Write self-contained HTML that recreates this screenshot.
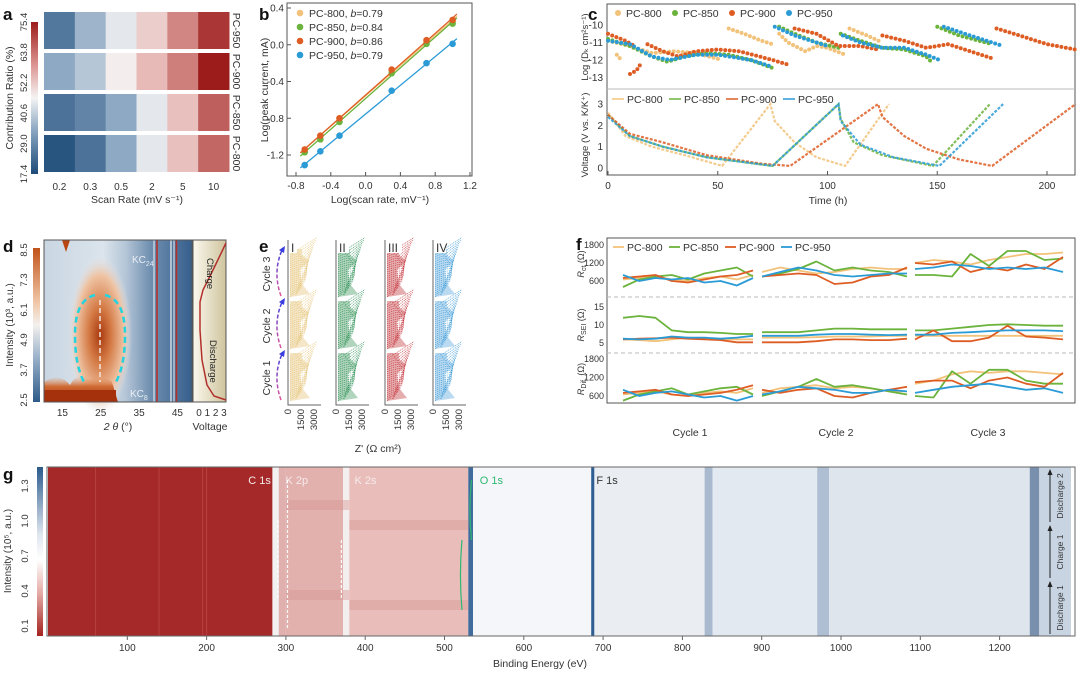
<!DOCTYPE html>
<html><head><meta charset="utf-8"><style>
body{margin:0;background:#fff}
svg{display:block;font-family:"Liberation Sans",sans-serif;fill:#333}
</style></head><body>
<svg id="fig" width="1080" height="675" viewBox="0 0 1080 675" xmlns="http://www.w3.org/2000/svg">
<defs>
<linearGradient id="cbA" x1="0" y1="0" x2="0" y2="1"><stop offset="0" stop-color="#9c1c1c"/><stop offset=".28" stop-color="#dc9490"/><stop offset=".5" stop-color="#f4f4f4"/><stop offset=".72" stop-color="#86a3c0"/><stop offset="1" stop-color="#1c4a78"/></linearGradient>
<linearGradient id="cbD" x1="0" y1="0" x2="0" y2="1"><stop offset="0" stop-color="#c0531a"/><stop offset=".35" stop-color="#f0c6a6"/><stop offset=".5" stop-color="#f3f1ee"/><stop offset=".7" stop-color="#9fb5cc"/><stop offset="1" stop-color="#2c5a88"/></linearGradient>
<linearGradient id="cbG" x1="0" y1="0" x2="0" y2="1"><stop offset="0" stop-color="#2a5a8c"/><stop offset=".4" stop-color="#dfe6ee"/><stop offset=".55" stop-color="#fff"/><stop offset=".75" stop-color="#e4a8a4"/><stop offset="1" stop-color="#a3231f"/></linearGradient>
<linearGradient id="dBg" x1="0" y1="0" x2="1" y2="0"><stop offset="0" stop-color="#c9d6e2"/><stop offset=".4" stop-color="#dbe4ec"/><stop offset=".55" stop-color="#b5c6d7"/><stop offset=".72" stop-color="#6f8fb0"/><stop offset="1" stop-color="#365f8c"/></linearGradient>
<radialGradient id="dBlob" cx=".5" cy=".5" r=".5"><stop offset="0" stop-color="#a8380f"/><stop offset=".35" stop-color="#d47a45"/><stop offset=".75" stop-color="#efc3a3"/><stop offset="1" stop-color="#e4e6ea" stop-opacity="0"/></radialGradient>
<linearGradient id="dBot" x1="0" y1="0" x2="0" y2="1"><stop offset="0" stop-color="#e9a77c" stop-opacity="0"/><stop offset=".4" stop-color="#cf6a33"/><stop offset="1" stop-color="#a5300c"/></linearGradient>
<linearGradient id="vBg" x1="0" y1="0" x2="1" y2="0"><stop offset="0" stop-color="#fbf8ee"/><stop offset="1" stop-color="#cfc49d"/></linearGradient>
<linearGradient id="arcG" x1="0" y1="1" x2="0" y2="0"><stop offset="0" stop-color="#e0559a"/><stop offset="1" stop-color="#3a3de0"/></linearGradient>
</defs>

<text x="3" y="20" font-size="17" font-weight="bold" fill="#111">a</text>
<text x="259" y="20" font-size="17" font-weight="bold" fill="#111">b</text>
<text x="588" y="20" font-size="17" font-weight="bold" fill="#111">c</text>
<text x="3" y="252" font-size="17" font-weight="bold" fill="#111">d</text>
<text x="259" y="252" font-size="17" font-weight="bold" fill="#111">e</text>
<text x="576" y="250" font-size="17" font-weight="bold" fill="#111">f</text>
<text x="3" y="480" font-size="17" font-weight="bold" fill="#111">g</text>

<g id="pa">
<rect x="31" y="22" width="7" height="152" fill="url(#cbA)"/>
<text transform="translate(13,98) rotate(-90)" font-size="10.5" text-anchor="middle">Contribution Ratio (%)</text>
<text x="137" y="203" font-size="10.5" text-anchor="middle">Scan Rate (mV s⁻¹)</text>
</g>
<g id="pb">
<rect x="287" y="3" width="185" height="173" fill="none" stroke="#555" stroke-width="1"/>
<text transform="translate(268,90) rotate(-90)" font-size="10.5" text-anchor="middle">Log(peak current, mA)</text>
<text x="380" y="203" font-size="10.5" text-anchor="middle">Log(scan rate, mV⁻¹)</text>
</g>
<g id="pc">
<rect x="607" y="4" width="468" height="171" fill="none" stroke="#555"/>
<line x1="607" y1="89" x2="1075" y2="89" stroke="#bbb"/>
<text transform="translate(588,47) rotate(-90)" font-size="9.5" text-anchor="middle">Log (Dₖ cm²s⁻¹)</text>
<text transform="translate(588,135) rotate(-90)" font-size="9.5" text-anchor="middle">Voltage (V vs. K/K⁺)</text>
<text x="828" y="204" font-size="10.5" text-anchor="middle">Time (h)</text>
</g>
<g id="pd">
<rect x="33" y="248" width="7" height="154" fill="url(#cbD)"/>
<rect x="44" y="240" width="148" height="162" fill="url(#dBg)"/>
<ellipse cx="100" cy="335" rx="32" ry="80" fill="url(#dBlob)"/>
<path d="M44 402 L44 382 Q60 372 70 385 Q78 370 90 380 Q100 372 112 382 L118 402 Z" fill="url(#dBot)"/>
<rect x="44" y="390" width="72" height="12" fill="#a5300c"/>
<path d="M62 240 L66 252 L70 240 Z" fill="#b8440f"/>
<line x1="154" y1="240" x2="154" y2="402" stroke="#eef2f6" stroke-width="1"/>
<line x1="157" y1="240" x2="157" y2="402" stroke="#b5322b" stroke-width="1.6"/>
<line x1="171" y1="240" x2="171" y2="402" stroke="#eef2f6" stroke-width="1.2"/>
<line x1="174" y1="240" x2="174" y2="402" stroke="#eef2f6" stroke-width="1"/>
<line x1="176.5" y1="240" x2="176.5" y2="402" stroke="#b5322b" stroke-width="1.6"/>
<path d="M95 295 Q75 300 75 335 Q75 365 84 382" fill="none" stroke="#22d3e0" stroke-width="2.5" stroke-dasharray="6 4"/>
<path d="M105 295 Q125 300 125 335 Q125 365 116 382" fill="none" stroke="#22d3e0" stroke-width="2.5" stroke-dasharray="6 4"/>
<line x1="100" y1="300" x2="100" y2="382" stroke="#f3e6dc" stroke-width="1.5" stroke-dasharray="5 3"/>
<text x="132" y="263" font-size="10" fill="#e8eef5">KC<tspan font-size="7" dy="3">24</tspan></text>
<text x="130" y="397" font-size="10" fill="#e8eef5">KC<tspan font-size="7" dy="3">8</tspan></text>
<rect x="44" y="240" width="148" height="162" fill="none" stroke="#555"/>
<rect x="193" y="240" width="33" height="162" fill="url(#vBg)" stroke="#555"/>
<path d="M226 243 L214 268 L203 290 L200 302 L200 330 L202 360 L207 385 L214 396 L226 400" fill="none" stroke="#b2302b" stroke-width="1.5"/>
<text transform="translate(207,258) rotate(90)" font-size="9.5" fill="#222">Charge</text>
<text transform="translate(210,340) rotate(90)" font-size="9.5" fill="#222">Discharge</text>
<text transform="translate(13,325) rotate(-90)" font-size="10" text-anchor="middle">Intensity (10³, a.u.)</text>
<text x="118" y="430" font-size="10.5" text-anchor="middle"><tspan font-style="italic">2 θ</tspan> (°)</text>
<text x="210" y="430" font-size="10.5" text-anchor="middle">Voltage</text>
</g>
<g id="pe">
<text x="378" y="452" font-size="10.5" text-anchor="middle">Z' (Ω cm²)</text>
</g>
<g id="pf">
<rect x="607" y="238" width="468" height="165" fill="none" stroke="#555"/>
<line x1="607" y1="297" x2="1075" y2="297" stroke="#bbb" stroke-dasharray="4 3"/>
<line x1="607" y1="353" x2="1075" y2="353" stroke="#bbb" stroke-dasharray="4 3"/>
<text transform="translate(584,264) rotate(-90)" font-size="9" text-anchor="middle"><tspan font-style="italic">R</tspan><tspan font-size="7" dy="2">ct</tspan><tspan dy="-2"> (Ω)</tspan></text>
<text transform="translate(584,325) rotate(-90)" font-size="9" text-anchor="middle"><tspan font-style="italic">R</tspan><tspan font-size="7" dy="2">SEI</tspan><tspan dy="-2"> (Ω)</tspan></text>
<text transform="translate(584,379) rotate(-90)" font-size="9" text-anchor="middle"><tspan font-style="italic">R</tspan><tspan font-size="7" dy="2">Dif.</tspan><tspan dy="-2"> (Ω)</tspan></text>
<text x="690" y="436" font-size="10.5" text-anchor="middle">Cycle 1</text>
<text x="836" y="436" font-size="10.5" text-anchor="middle">Cycle 2</text>
<text x="988" y="436" font-size="10.5" text-anchor="middle">Cycle 3</text>
</g>
<g id="pg">
<rect x="37" y="467" width="6" height="169" fill="url(#cbG)"/>
<text transform="translate(11,551) rotate(-90)" font-size="10" text-anchor="middle">Intensity (10⁵, a.u.)</text>
<text x="540" y="667" font-size="10.5" text-anchor="middle">Binding Energy (eV)</text>
</g>
</svg>
<script>
const NS='http://www.w3.org/2000/svg';
const svg=document.getElementById('fig');
function mk(tag,attrs,parent){const e=document.createElementNS(NS,tag);for(const k in attrs)e.setAttribute(k,attrs[k]);(parent||svg).appendChild(e);return e;}
function txt(x,y,s,size,anchor,parent,extra){const t=mk('text',Object.assign({x:x,y:y,'font-size':size,'text-anchor':anchor||'middle'},extra||{}),parent);t.textContent=s;return t;}

/* ---------- panel a data ---------- */
const aRows=['PC-950','PC-900','PC-850','PC-800'];
const aCols=['0.2','0.3','0.5','2','5','10'];
const aVals950=[25,35,44,52,62,72];
const aVals900=[33,38,47,55,63,76];
const aVals850=[24,27,33,44,54,67];
const aVals800=[19,24,33,44,54,66];
const aTicks=['17.4','29.0','40.6','52.2','63.8','75.4'];
const aStops=[[17.4,[28,74,120]],[32,[134,163,192]],[46,[244,244,244]],[58,[226,166,162]],[75.4,[156,28,28]]];
function aColor(v){for(let i=0;i<aStops.length-1;i++){const a=aStops[i],b=aStops[i+1];if(v<=b[0]){const t=Math.max(0,(v-a[0])/(b[0]-a[0]));return 'rgb('+a[1].map((c,j)=>Math.round(c+(b[1][j]-c)*t)).join(',')+')';}}return 'rgb(156,28,28)';}
const pa=document.getElementById('pa');
const aData=[aVals950,aVals900,aVals850,aVals800];
const ax0=44,aw=185/6,ay0=12,ah=41;
aData.forEach((row,r)=>{
  row.forEach((v,c)=>{
    const cell=mk('rect',{x:ax0+c*aw,y:ay0+r*ah,width:aw+0.5,height:ah-4,fill:aColor(v)},pa);
    
    
  });
  const lb=txt(0,0,aRows[r],10.5,'middle',pa,{transform:'translate('+(233)+','+(ay0+r*ah+(ah-4)/2)+') rotate(90)'});
  
  
});
aCols.forEach((s,c)=>{const t=txt(ax0+(c+.5)*aw,190,s,10,'middle',pa);
  
  });
aTicks.forEach((s,i)=>{const y=174-i*152/5;const t=txt(0,0,s,9.5,'middle',pa,{transform:'translate(27,'+y+') rotate(-90)'});
  
  });

/* ---------- panel b data ---------- */
const bX=[-0.7,-0.52,-0.3,0.3,0.7,1.0];
const bPC800=[-1.14,-0.99,-0.80,-0.29,0.03,0.25];
const bPC850=[-1.17,-1.03,-0.84,-0.31,0.01,0.23];
const bPC900=[-1.14,-0.99,-0.80,-0.27,0.05,0.27];
const bPC950=[-1.31,-1.16,-0.99,-0.50,-0.20,0.01];
const bNames=['PC-800, b=0.79','PC-850, b=0.84','PC-900, b=0.86','PC-950, b=0.79'];
const bXTicks=[-0.8,-0.4,0.0,0.4,0.8,1.2];
const bYTicks=[0.4,0.0,-0.4,-0.8,-1.2];
const COLS=['#f2c27a','#6bb33c','#de5d24','#2b9bd6'];
function bx(v){return 296+(v+0.8)/2.0*174;}
function by(v){return 8+(0.4-v)/1.6*147;}
const pb=document.getElementById('pb');
bXTicks.forEach(v=>{const l=mk('line',{x1:bx(v),x2:bx(v),y1:176,y2:172,stroke:'#555'},pb);
  
  const t=txt(bx(v),189,v.toFixed(1),10,'middle',pb);
  });
bYTicks.forEach(v=>{const l=mk('line',{x1:287,x2:291,y1:by(v),y2:by(v),stroke:'#555'},pb);
  
  const t=txt(284,by(v)+3.5,v.toFixed(1),10,'end',pb);
  });
[bPC800,bPC850,bPC900,bPC950].forEach((ys,k)=>{
  const n=ys.length,mx=bX.reduce((a,b)=>a+b)/n,my=ys.reduce((a,b)=>a+b)/n;
  let sxy=0,sxx=0;bX.forEach((x,i)=>{sxy+=(x-mx)*(ys[i]-my);sxx+=(x-mx)*(x-mx);});
  const m=sxy/sxx,c=my-m*mx;
  const fl=mk('line',{x1:bx(-0.75),y1:by(m*-0.75+c),x2:bx(1.05),y2:by(m*1.05+c),stroke:COLS[k],'stroke-width':1.3},pb);
  
  ys.forEach((y,i)=>{const p=mk('circle',{cx:bx(bX[i]),cy:by(y),r:3.3,fill:COLS[k]},pb);
    });
  const lp=mk('circle',{cx:300,cy:13+k*14,r:3.3,fill:COLS[k]},pb);
  
  const lt=txt(309,17+k*14,bNames[k].split('b=')[0],10.5,'start',pb);
  const ts=document.createElementNS(NS,'tspan');ts.setAttribute('font-style','italic');ts.textContent='b';lt.appendChild(ts);
  const ts2=document.createElementNS(NS,'tspan');ts2.textContent='='+bNames[k].split('b=')[1];lt.appendChild(ts2);
  
});

/* ---------- panel c data ---------- */
const cD800=[[[0,-10.9],[10,-11.2],[20,-11.6],[30,-11.5],[40,-11.6],[52,-12.0]],[[4,-11.7],[6,-12.0]],[[55,-10.2],[62,-10.5],[70,-10.9],[75,-11.1]],[[78,-10.5],[82,-11.0],[90,-11.5],[95,-11.2],[100,-11.3],[108,-11.7]],[[110,-10.2],[118,-10.6],[125,-11.0]]];
const cD850=[[[0,-10.8],[10,-11.2],[20,-11.8],[27,-12.1],[35,-11.8],[45,-11.6],[55,-11.7],[65,-12.0],[76,-12.5]],[[78,-10.1],[85,-10.5],[95,-11.0],[105,-11.3]],[[106,-10.5],[115,-10.9],[125,-11.3],[135,-11.4],[145,-11.8],[148,-12.2]],[[150,-10.1],[160,-10.6],[175,-11.1]]];
const cD900=[[[0,-10.5],[8,-10.9],[12,-11.2]],[[10,-12.8],[13,-12.6],[15,-12.2]],[[18,-11.1],[25,-11.5],[32,-11.8],[40,-11.5],[50,-11.4],[60,-11.5],[75,-12.0],[83,-12.3]],[[85,-10.2],[95,-10.5],[105,-11.2],[115,-11.2],[123,-11.4]],[[125,-10.6],[135,-10.9],[145,-11.3],[155,-11.1],[165,-11.5],[175,-11.9]],[[177,-10.2],[185,-10.5],[200,-11.1],[213,-11.4]]];
const cD950=[[[0,-10.9],[10,-11.1],[20,-11.8],[28,-12.0],[40,-11.7],[50,-11.7],[65,-12.0],[75,-12.4]],[[76,-10.1],[85,-10.6],[100,-11.2]],[[107,-10.6],[115,-11.0],[125,-11.3],[135,-11.3],[145,-11.7],[151,-12.0]],[[153,-10.1],[165,-10.6],[180,-11.2]]];
const cV800=[[0,2.6],[8,1.5],[20,1.0],[35,0.6],[52,0.1],[74,3.0],[76,2.2],[85,1.2],[95,0.5],[108,0.1],[128,3.0]];
const cV850=[[0,2.5],[10,1.5],[25,1.0],[45,0.5],[75,0.1],[105,3.0],[106,2.3],[112,1.2],[125,0.6],[148,0.1],[174,3.0]];
const cV900=[[0,2.5],[10,1.6],[25,1.2],[45,0.6],[70,0.2],[83,0.1],[123,3.0],[125,2.4],[135,1.5],[145,0.9],[160,0.4],[175,0.1],[213,3.0]];
const cV950=[[0,2.4],[10,1.5],[25,1.0],[45,0.5],[75,0.1],[105,3.0],[106,2.2],[115,1.1],[130,0.5],[151,0.1],[180,3.0]];
const cXTicks=[0,50,100,150,200];
const cYTopTicks=[-10,-11,-12,-13];
const cYBotTicks=[0,1,2,3];
const cNames=['PC-800','PC-850','PC-900','PC-950'];
function cx(t){return 608+t*(1047-608)/200;}
function cyU(v){return 25+(-10-v)*17.5;}
function cyL(v){return 168-v*21.3;}
const pc=document.getElementById('pc');
cXTicks.forEach(v=>{const l=mk('line',{x1:cx(v),x2:cx(v),y1:175,y2:171,stroke:'#555'},pc);
  
  const t=txt(cx(v),189,String(v),10,'middle',pc);
  });
cYTopTicks.forEach(v=>{const t=txt(603,cyU(v)+3.5,String(v),10,'end',pc);
  });
cYBotTicks.forEach(v=>{const t=txt(603,cyL(v)+3.5,String(v),10,'end',pc);
  });
[cD800,cD850,cD900,cD950].forEach((segs,k)=>{
  segs.forEach(seg=>{
    const d=seg.map((p,i)=>(i?'L':'M')+cx(p[0]).toFixed(1)+' '+cyU(p[1]).toFixed(1)).join(' ');
    const pth=mk('path',{d:d,fill:'none',stroke:COLS[k],'stroke-width':4,'stroke-linecap':'round','stroke-dasharray':'0 4.5'},pc);
    
  });
});
[cV800,cV850,cV900,cV950].forEach((pts,k)=>{
  const d=pts.map((p,i)=>(i?'L':'M')+cx(p[0]).toFixed(1)+' '+cyL(p[1]).toFixed(1)).join(' ');
  const pth=mk('path',{d:d,fill:'none',stroke:COLS[k],'stroke-width':2.2,'stroke-dasharray':'3 1.5',opacity:.85},pc);
  
});
cNames.forEach((n,k)=>{
  const m=mk('circle',{cx:618+k*57,cy:13,r:3,fill:COLS[k]},pc);
  
  const t=txt(626+k*57,17,n,10.5,'start',pc);
  
  const l=mk('line',{x1:612+k*57,x2:624+k*57,y1:99,y2:99,stroke:COLS[k],'stroke-width':1.5},pc);
  
  const t2=txt(627+k*57,103,n,10.5,'start',pc);
  
});

/* ---------- panel d ticks ---------- */
const dXTicks=[15,25,35,45];
const dCbTicks=['2.5','3.7','4.9','6.1','7.3','8.5'];
const dVTicks=[0,1,2,3];
function dx(v){return 44+(v-10.2)*(148/38.6);}
const pd=document.getElementById('pd');
dXTicks.forEach(v=>{const t=txt(dx(v),416,String(v),10,'middle',pd);
  });
dVTicks.forEach(v=>{const t=txt(199+v*8.3,416,String(v),10,'middle',pd);
  });
dCbTicks.forEach((s,i)=>{const t=txt(0,0,s,9.5,'middle',pd,{transform:'translate(27,'+(400-i*150/5)+') rotate(-90)'});
  });

/* ---------- panel e ---------- */
const eLabels=['I','II','III','IV'];
const eColors=['#e3bf6e','#1f8a4c','#c0262d','#2f95d3'];
const eFill=['#f0dcae','#8fc2a0','#dc8a8d','#9ccbeb'];
const eLeft=[288,336,385,433];
const eTicks=['0','1500','3000'];
const pe=document.getElementById('pe');
['Cycle 1','Cycle 2','Cycle 3'].forEach((s,i)=>{
  const t=txt(0,0,s,10.5,'middle',pe,{transform:'translate(270,'+(378-i*52)+') rotate(-90)'});
  
  const a=mk('path',{d:'M281 '+(400-i*52)+' Q272 '+(375-i*52)+' 283 '+(352-i*52),fill:'none',stroke:'url(#arcG)','stroke-width':1.5,'stroke-dasharray':'4 2'},pe);
  
  const h=mk('path',{d:'M279 '+(354-i*52)+' L285 '+(350-i*52)+' L284 '+(357-i*52)+' Z',fill:'#3a3de0'},pe);
  
});
eLabels.forEach((lab,k)=>{
  const x0=eLeft[k];
  const ax=mk('path',{d:'M'+x0+' 240 L'+x0+' 405 L'+(x0+33)+' 405',fill:'none',stroke:'#666'},pe);
  
  for(let c=0;c<3;c++){
    const yb=401-c*52;
    const body=mk('path',{d:'M'+(x0+2)+' '+yb+' L'+(x0+22)+' '+(yb-3)+' L'+(x0+14)+' '+(yb-13)+' L'+(x0+12)+' '+(yb-27)+' L'+(x0+21)+' '+(yb-36)+' L'+(x0+14)+' '+(yb-42)+' L'+(x0+14)+' '+(yb-48)+' L'+(x0+2)+' '+(yb-48)+' Z',fill:eFill[k],opacity:.7},pe);
    
    for(let j=0;j<22;j++){
      const y=yb-j*2.1;
      const bulge=Math.sin(j/21*Math.PI)*13+5;
      const p=mk('path',{d:'M'+(x0+2)+' '+y+' Q'+(x0+2+bulge)+' '+(y-5)+' '+(x0+4+bulge*0.8)+' '+(y-2)+' L'+(x0+10+j*0.9)+' '+(y-10-j*0.25),fill:'none',stroke:eColors[k],'stroke-width':0.7,'stroke-dasharray':'1.2 0.8',opacity:.8},pe);
      
    }
  }
  const bg=mk('rect',{x:x0+1,y:241,width:lab.length*4+4,height:12,fill:'#fff'},pe);
  
  const t=txt(x0+3,252,lab,12,'start',pe);
  
  eTicks.forEach((s,i)=>{const tt=txt(0,0,s,9.5,'end',pe,{transform:'translate('+(x0+3+i*13)+',409) rotate(-90)'});
    });
});

/* ---------- panel f data ---------- */
const fRct800=[[650,700,750,650,600,700,750,650,800],[900,1050,950,850,900,1000,1050,1000,1000],[1200,1300,1250,1150,1300,1400,1500,1500,1550]];
const fRct850=[[400,650,750,800,650,850,950,1050,750],[750,850,1000,1250,950,1050,950,900,750],[800,800,750,1500,1100,1600,1600,1300,1350]];
const fRct900=[[700,750,800,600,550,650,750,800,950],[750,800,850,800,500,550,750,800,1050],[1200,1150,1250,900,1050,950,1150,1000,1400]];
const fRct950=[[800,600,700,650,700,550,600,450,700],[750,900,1050,950,800,750,800,850,850],[1000,1050,1150,1100,1000,1050,1000,1050,900]];
const fSei800=[[6,5.8,5.5,6,6.5,6.2,6,6,6],[6.5,6.5,6.5,6.6,6.8,6.8,6.8,7,7],[7,7,7,7,7,7,7,7,7]];
const fSei850=[[12,12.5,12,8.5,8,8,7.8,7.5,7.5],[8,8,8,8.5,9,9,8.8,8.8,8.8],[8.5,8.5,9,9.5,10,10.2,10,9.8,9.8]];
const fSei900=[[6,6.2,6.3,6.5,6.2,6,5.8,5.2,5.2],[5.2,5.2,5.2,5.5,6,6,5.8,5.8,6.2],[6,8.5,5.5,5.5,6.5,9.8,6.8,6.5,6]];
const fSei950=[[6.2,6,6.2,6.8,6.5,6.5,6.2,6.5,7],[7,7,7,7.3,7.5,7.5,7.3,7.2,7.3],[7.3,7.3,7.8,8,8.3,8.5,8.5,8.5,8.3]];
const fDif800=[[650,700,750,650,600,700,750,700,850],[700,850,900,950,850,900,850,750,750],[1000,1100,1300,1400,1350,1400,1400,1350,1300]];
const fDif850=[[450,650,750,850,650,750,850,900,650],[600,750,900,1150,900,950,850,750,650],[600,550,1400,1000,1450,1450,1100,1000,1000]];
const fDif900=[[700,750,800,650,600,650,700,800,950],[800,700,800,850,600,550,700,800,900],[1050,1100,1100,850,1100,1200,1000,900,1350]];
const fDif950=[[800,600,700,750,650,550,600,450,600],[650,750,900,850,800,700,700,800,750],[700,800,900,950,1000,900,800,850,700]];
const fOhmTicks=[600,1200,1800];
const fSeiTicks=[5,10,15];
const fCycleRange=[[623,753],[762,907],[915,1063]];
function fyRct(v){return 281-(v-600)*(36/1200);}
function fySei(v){return 343-(v-5)*(36/10);}
function fyDif(v){return 396-(v-600)*(37/1200);}
function fxi(c,i,n){const r=fCycleRange[c];return r[0]+(r[1]-r[0])*i/(n-1);}
const pf=document.getElementById('pf');
fOhmTicks.forEach(v=>{
  const t=txt(604,fyRct(v)+3,String(v),9,'end',pf);
  const t2=txt(604,fyDif(v)+3,String(v),9,'end',pf);});
fSeiTicks.forEach(v=>{const t=txt(604,fySei(v)+3,String(v),9,'end',pf);});
const fGroups=[[[fRct800,fRct850,fRct900,fRct950],fyRct],[[fSei800,fSei850,fSei900,fSei950],fySei],[[fDif800,fDif850,fDif900,fDif950],fyDif]];
fGroups.forEach(g=>{
  g[0].forEach((series,k)=>{
    series.forEach((vals,c)=>{
      const d=vals.map((v,i)=>(i?'L':'M')+fxi(c,i,vals.length).toFixed(1)+' '+g[1](v).toFixed(1)).join(' ');
      const p=mk('path',{d:d,fill:'none',stroke:COLS[k],'stroke-width':1.8,'stroke-linejoin':'round'},pf);
      
    });
  });
});
cNames.forEach((n,k)=>{
  const l=mk('line',{x1:613+k*56,x2:624+k*56,y1:247,y2:247,stroke:COLS[k],'stroke-width':1.8},pf);
  
  const t=txt(627+k*56,251,n,10.5,'start',pf);
  
});

/* ---------- panel g data ---------- */
const gBandStart=[0,283,291,300,372,380,530,536,685,689,828,838,970,985,1238,1250];
const gBandEnd=[283,291,300,372,380,530,536,685,689,828,838,970,985,1238,1250,1300];
const gBandColor=['#a6292a','#f2f0f0','#dfb0ae','#e2b0ad','#f4efef','#e9beba','#3f6c9c','#f4f6f9','#2f5f92','#eaeef3','#a9bace','#e3e9f0','#aebfd3','#dfe5ed','#7890ae','#c8d4e1'];
const gYTicks=['0.1','0.4','0.7','1.0','1.3'];
const gXTicks=[100,200,300,400,500,600,700,800,900,1000,1100,1200];
const gPeaks=['C 1s','K 2p','K 2s','O 1s','F 1s'];
const gPeakEV=[250,297,384,542,689];
function gx(ev){return 48+ev*0.793;}
const pg=document.getElementById('pg');
gBandStart.forEach((s,i)=>{const e=Math.min(gBandEnd[i],1290);
  const r=mk('rect',{x:gx(s),y:467,width:Math.max(0,gx(e)-gx(s)),height:169,fill:gBandColor[i]},pg);
  });
[60,140,200,195].forEach(ev=>{const l=mk('line',{x1:gx(ev),x2:gx(ev),y1:467,y2:636,stroke:'#c65a55','stroke-width':1,opacity:.5},pg);
  });
[[300,380,500],[380,530,520],[300,380,590],[380,530,600]].forEach(b=>{const r=mk('rect',{x:gx(b[0]),y:b[2],width:gx(b[1])-gx(b[0]),height:10,fill:'#d89894',opacity:.45},pg);
  });
const gf=mk('rect',{x:47,y:467,width:1028,height:169,fill:'none',stroke:'#666'},pg);


gXTicks.forEach(v=>{const l=mk('line',{x1:gx(v),x2:gx(v),y1:636,y2:640,stroke:'#666'},pg);
  
  const t=txt(gx(v),651,String(v),10,'middle',pg);
  });
gYTicks.forEach((s,i)=>{const y=626-i*35;const t=txt(0,0,s,9.5,'middle',pg,{transform:'translate(28,'+y+') rotate(-90)'});
  });
gPeaks.forEach((s,i)=>{const col=i<3?'#f5eaea':(i===3?'#2eb872':'#333');
  const t=txt(gx(gPeakEV[i])+2,484,s,11,'start',pg,{fill:col});
  });
[[290,520,600],[370,540,600],[302,480,630]].forEach(a=>{const l=mk('line',{x1:gx(a[0]),x2:gx(a[0]),y1:a[1],y2:a[2],stroke:'#fff','stroke-width':1.2,'stroke-dasharray':'3 2'},pg);
  });
[[522,540,610],[534,480,540]].forEach(a=>{const l=mk('path',{d:'M'+gx(a[0])+' '+a[2]+' Q'+(gx(a[0])-3)+' '+((a[1]+a[2])/2)+' '+gx(a[0])+' '+a[1],fill:'none',stroke:'#2eb872','stroke-width':1.2},pg);
  });
['Discharge 1','Charge 1','Discharge 2'].forEach((s,i)=>{
  const yb=634-i*56;
  const l=mk('line',{x1:1050,x2:1050,y1:yb,y2:yb-50,stroke:'#222','stroke-width':1},pg);
  
  const h=mk('path',{d:'M1047.5 '+(yb-47)+' L1050 '+(yb-53)+' L1052.5 '+(yb-47)+' Z',fill:'#222'},pg);
  
  const t=txt(0,0,s,8.5,'middle',pg,{transform:'translate(1063,'+(yb-26)+') rotate(-90)'});
  
});
</script>
</body></html>
